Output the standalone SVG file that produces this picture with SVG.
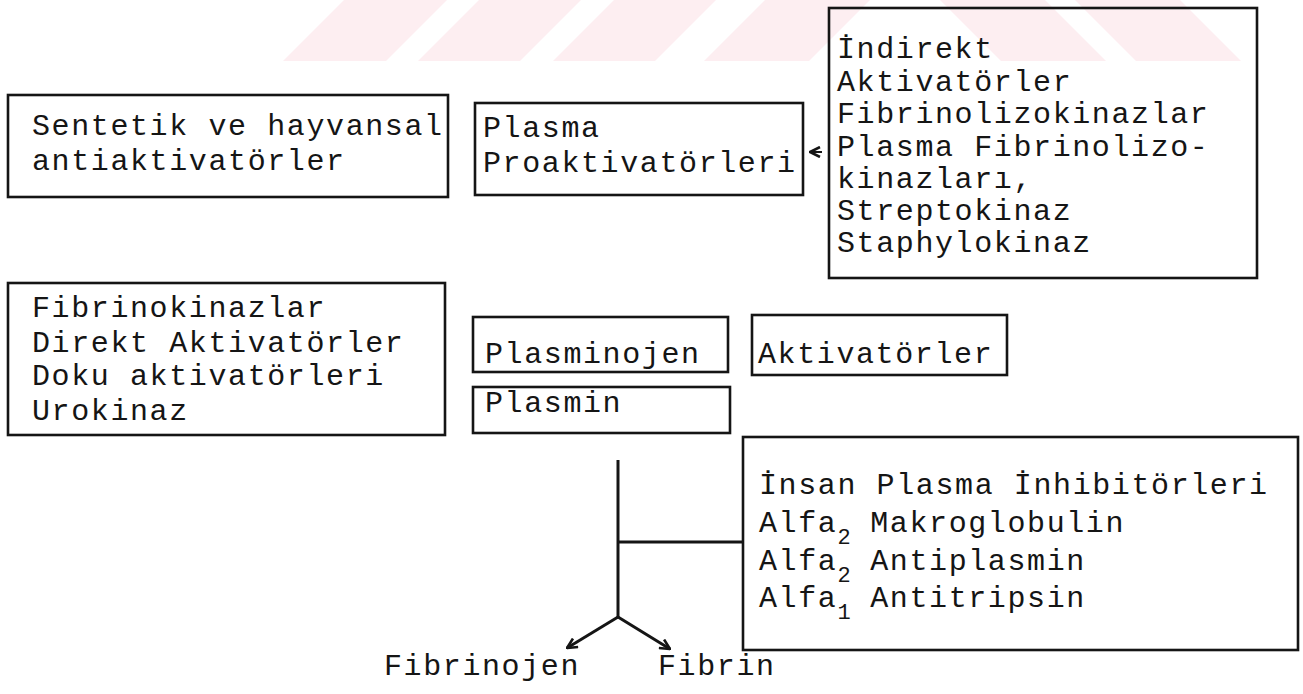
<svg xmlns="http://www.w3.org/2000/svg" width="1303" height="694" viewBox="0 0 1303 694">
<style>
.t{font-family:"Liberation Mono","Courier New",monospace;font-size:30px;letter-spacing:1.6px;fill:#151515}
.s{font-size:22px;letter-spacing:0}
.b{fill:none;stroke:#151515;stroke-width:2.6}
.c{fill:none;stroke:#151515;stroke-width:3}
.wm{fill:#fdeef1}
</style>
<defs>
<marker id="ah" viewBox="0 0 12 12" refX="11" refY="6" markerWidth="12" markerHeight="12" markerUnits="userSpaceOnUse" orient="auto">
<path d="M1,1 L11,6 L1,11" fill="none" stroke="#151515" stroke-width="2.6"/>
</marker>
</defs>
<g id="watermark">
<polygon class="wm" points="344,0 447,0 386,61 283,61"/>
<polygon class="wm" points="479,0 581,0 520,61 418,61"/>
<polygon class="wm" points="614,0 716,0 655,61 553,61"/>
<polygon class="wm" points="765,0 870,0 809,61 704,61"/>
<polygon class="wm" points="940,0 1045,0 1106,61 1001,61"/>
<polygon class="wm" points="1075,0 1180,0 1241,61 1136,61"/>
</g>
<g id="n-sentetik">
<rect class="b" x="8" y="95" width="440" height="102"/>
<text class="t" x="32" y="135">Sentetik ve hayvansal</text>
<text class="t" x="32" y="170">antiaktivatörler</text>
</g>
<g id="n-proakt">
<rect class="b" x="475" y="103" width="328" height="92"/>
<text class="t" x="483" y="137">Plasma</text>
<text class="t" x="483" y="172">Proaktivatörleri</text>
</g>
<g id="n-indirekt">
<rect class="b" x="829" y="8" width="428" height="270"/>
<text class="t" x="837" y="58">İndirekt</text>
<text class="t" x="837" y="91">Aktivatörler</text>
<text class="t" x="837" y="123">Fibrinolizokinazlar</text>
<text class="t" x="837" y="156">Plasma Fibrinolizo-</text>
<text class="t" x="837" y="188">kinazları,</text>
<text class="t" x="837" y="220">Streptokinaz</text>
<text class="t" x="837" y="252">Staphylokinaz</text>
</g>
<g id="n-fibrinokinaz">
<rect class="b" x="8" y="283" width="437" height="152"/>
<text class="t" x="32" y="317">Fibrinokinazlar</text>
<text class="t" x="32" y="352">Direkt Aktivatörler</text>
<text class="t" x="32" y="385">Doku aktivatörleri</text>
<text class="t" x="32" y="420">Urokinaz</text>
</g>
<g id="n-plasminojen">
<rect class="b" x="473" y="317" width="255" height="55"/>
<text class="t" x="485" y="363">Plasminojen</text>
</g>
<g id="n-plasmin">
<rect class="b" x="473" y="387" width="257" height="46"/>
<text class="t" x="485" y="412">Plasmin</text>
</g>
<g id="n-aktivatorler">
<rect class="b" x="752" y="315" width="255" height="60"/>
<text class="t" x="758" y="363">Aktivatörler</text>
</g>
<g id="n-inhibitor">
<rect class="b" x="743" y="437" width="555" height="213"/>
<text class="t" x="759" y="494">İnsan Plasma İnhibitörleri</text>
<text class="t" x="759" y="532">Alfa<tspan class="s" dy="12">2</tspan><tspan dy="-12"> Makroglobulin</tspan></text>
<text class="t" x="759" y="570">Alfa<tspan class="s" dy="12">2</tspan><tspan dy="-12"> Antiplasmin</tspan></text>
<text class="t" x="759" y="607">Alfa<tspan class="s" dy="12">1</tspan><tspan dy="-12"> Antitripsin</tspan></text>
</g>
<g id="n-fibrinojen">
<text class="t" x="384" y="675">Fibrinojen</text>
</g>
<g id="n-fibrin">
<text class="t" x="658" y="675">Fibrin</text>
</g>
<g id="connectors">
<path class="c" d="M822,152 L810,152" marker-end="url(#ah)" style="stroke-width:2"/>
<path class="c" d="M618,460 L618,617"/>
<path class="c" d="M618,542 L743,542"/>
<path class="c" d="M618,617 L567,648" marker-end="url(#ah)"/>
<path class="c" d="M618,617 L670,649" marker-end="url(#ah)"/>
</g>
</svg>
